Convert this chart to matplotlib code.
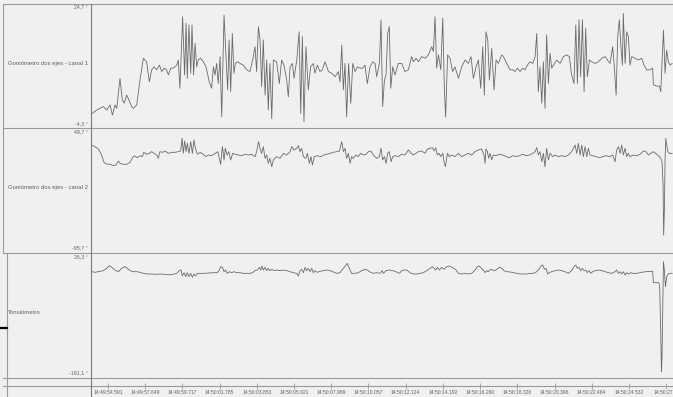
import matplotlib
matplotlib.use("Agg")
import matplotlib.pyplot as plt
from matplotlib.lines import Line2D

plt.rcParams['font.family'] = ['Liberation Sans', 'DejaVu Sans']

# time in seconds from the left edge of the record, values in degrees
t1 = [0.07, 0.31, 0.50, 0.69, 0.87, 1.06, 1.19, 1.33, 1.43, 1.61,
      1.74, 1.85, 1.98, 2.11, 2.26, 2.35, 2.54, 2.72, 2.91, 3.09,
      3.24, 3.37, 3.50, 3.65, 3.80, 3.93, 4.06, 4.20, 4.30, 4.43,
      4.57, 4.76, 4.85, 4.94, 5.09, 5.20, 5.28, 5.35, 5.44, 5.54,
      5.61, 5.70, 5.78, 5.87, 5.96, 6.09, 6.24, 6.39, 6.57, 6.70,
      6.80, 6.89, 6.98, 7.07, 7.17, 7.26, 7.39, 7.50, 7.59, 7.67,
      7.76, 7.85, 7.94, 8.02, 8.13, 8.28, 8.46, 8.65, 8.83, 8.98,
      9.11, 9.20, 9.30, 9.39, 9.48, 9.57, 9.67, 9.76, 9.85, 9.94,
      10.04, 10.13, 10.31, 10.46, 10.59, 10.72, 10.87, 10.96, 11.06, 11.19,
      11.28, 11.43, 11.56, 11.65, 11.74, 11.83, 11.94, 12.07, 12.20, 12.35,
      12.44, 12.57, 12.72, 12.85, 13.00, 13.19, 13.37, 13.56, 13.74, 13.83,
      13.93, 14.02, 14.11, 14.20, 14.31, 14.43, 14.54, 14.67, 14.80, 14.94,
      15.09, 15.22, 15.35, 15.50, 15.65, 15.78,
      15.87, 16.02, 16.11, 16.20, 16.30, 16.39, 16.48, 16.57, 16.65, 16.76,
      16.89, 17.07, 17.26, 17.44, 17.63, 17.81, 17.91, 18.06, 18.19, 18.37,
      18.56, 18.74, 18.93, 19.02, 19.11, 19.20, 19.30, 19.43, 19.54, 19.63,
      19.70, 19.81, 19.94, 20.09, 20.22, 20.41, 20.59, 20.78, 20.96, 21.11,
      21.24, 21.39, 21.52, 21.65, 21.76, 21.85, 21.94, 22.04, 22.13, 22.26,
      22.39, 22.50, 22.63, 22.81, 22.91, 23.09, 23.28, 23.43, 23.56, 23.69,
      23.83, 23.98, 24.11, 24.24, 24.39, 24.54, 24.67, 24.76, 24.85, 24.94,
      25.04, 25.13, 25.22, 25.31, 25.41, 25.50, 25.59, 25.69, 25.87, 26.06,
      26.24, 26.43, 26.57, 26.70, 26.83, 26.93, 27.02, 27.11, 27.20, 27.30,
      27.39, 27.48, 27.57, 27.69, 27.81, 28.00, 28.19, 28.37, 28.56, 28.69,
      28.83, 28.98, 29.07, 29.17, 29.26, 29.35, 29.43, 29.52, 29.57, 29.67,
      29.76, 29.85, 29.94, 30.04, 30.22, 30.41, 30.59, 30.72, 30.87, 31.06,
      31.20, 31.24, 31.43, 31.57, 31.65, 31.70, 31.80, 31.89, 31.98, 32.07,
      32.17, 32.28]
v1 = [-0.9, -0.1, 0.3, 0.7, -0.1, 1.1, -1.3, 1.1, 0.3, 7.3,
      2.2, 1.5, 3.4, 2.2, 0.7, 0.3, 1.1, 6.9, 12.0, 11.2,
      6.5, 9.3, 10.0, 9.3, 10.4, 8.9, 9.7, 9.3, 8.1, 9.7,
      9.7, 10.4, 11.6, 5.0, 21.7, 8.1, 20.2, 7.3, 19.8, 8.5,
      19.8, 8.1, 15.5, 10.0, 11.6, 12.0, 11.2, 10.0, 6.5, 5.0,
      10.0, 8.1, 10.8, 6.1, 12.4, -1.7, 22.1, 12.4, 4.6, 16.3,
      4.2, 17.8, 8.5, 10.8, 11.2, 10.8, 10.4, 9.3, 8.9, 11.6,
      14.7, 8.9, 19.4, 16.3, 5.4, 16.3, 3.4, 11.6, -0.1, 10.8,
      -2.1, 11.6, 11.2, 6.1, 11.6, 10.4, 6.9, 3.0, 10.0, 10.8,
      7.3, 11.6, 18.2, -0.9, 17.1, -2.8, 14.7, 4.6, 10.0, 10.8,
      8.5, 10.4, 8.9, 9.3, 11.2, 8.9, 8.5, 7.7, 8.9, 6.5,
      15.1, 4.6, 10.8, -1.7, 10.8, 1.5, 10.8, 8.9, 10.0, 9.7,
      9.7, 10.4, 6.1, 10.0, 11.2, 10.8,
      7.7, 10.8, 21.0, 0.7, 6.9, 8.1, 17.8, 19.4, 5.0, 10.0,
      8.1, 10.8, 10.8, 8.9, 9.3, 12.4, 11.2, 12.0, 11.2, 12.4,
      12.0, 12.8, 14.7, 13.6, 21.7, 9.7, 12.8, 9.3, 21.4, 4.6,
      -1.7, 12.8, 12.0, 8.9, 10.0, 7.3, 10.0, 11.6, 10.8, 12.4,
      7.3, 10.0, 11.6, 5.0, 14.7, 3.4, 18.2, 16.3, 6.9, 14.3,
      4.6, 11.6, 10.8, 12.8, 12.4, 10.8, 9.3, 9.3, 8.9, 9.7,
      8.9, 9.7, 9.3, 10.4, 11.2, 10.8, 12.4, 17.8, 4.2, 10.0,
      1.5, 11.2, 0.3, 17.5, 6.1, 13.2, 9.7, 10.4, 11.6, 10.8,
      12.4, 12.8, 12.4, 8.1, 6.1, 19.8, 6.1, 21.0, 7.7, 21.0,
      4.2, 19.0, 7.7, 11.6, 11.2, 10.8, 11.2, 12.0, 12.4, 11.6,
      10.8, 14.7, 10.0, 3.4, 17.1, 21.0, 15.1, 10.4, 22.5, 10.8,
      18.2, 17.1, 10.4, 12.4, 12.0, 11.6, 12.0, 10.4, 9.3, 9.3,
      9.7, 5.8, 5.5, 5.5, 4.2, 8.9, 18.6, 8.5, 13.9, 11.2,
      10.4, 10.8]

t2 = [0.07, 0.22, 0.41, 0.59, 0.72, 0.87, 1.06, 1.24, 1.39, 1.52,
      1.61, 1.80, 1.98, 2.17, 2.35, 2.44, 2.57, 2.72, 2.85, 2.94,
      3.09, 3.24, 3.37, 3.50, 3.65, 3.74, 3.83, 3.98, 4.11, 4.30,
      4.48, 4.67, 4.85, 4.98, 5.06, 5.13, 5.20, 5.28, 5.35, 5.44,
      5.54, 5.63, 5.72, 5.80, 5.91, 6.06, 6.24, 6.39, 6.52, 6.70,
      6.89, 7.04, 7.13, 7.20, 7.30, 7.39, 7.46, 7.56, 7.65, 7.76,
      7.87, 8.00, 8.19, 8.37, 8.56, 8.74, 8.93, 9.11, 9.20, 9.31,
      9.39, 9.48, 9.57, 9.67, 9.76, 9.85, 9.94, 10.04, 10.13, 10.31,
      10.50, 10.69, 10.87, 11.06, 11.15, 11.28, 11.43, 11.52, 11.61, 11.70,
      11.80, 11.93, 12.02, 12.13, 12.22, 12.30, 12.41, 12.57, 12.76, 12.94,
      13.09, 13.28, 13.46, 13.65, 13.80, 13.93, 14.02, 14.11, 14.20, 14.30,
      14.39, 14.48, 14.57, 14.72, 14.85, 14.98, 15.13, 15.28, 15.41, 15.54,
      15.69, 15.87, 16.02, 16.11, 16.20, 16.30, 16.39, 16.48, 16.57, 16.67,
      16.76, 16.89, 17.07, 17.26, 17.44, 17.63, 17.72, 17.87, 18.06, 18.19,
      18.37, 18.56, 18.69, 18.83, 18.96, 19.06, 19.15, 19.24, 19.33, 19.43,
      19.54, 19.63, 19.69, 19.80, 19.91, 20.04, 20.22, 20.41, 20.59, 20.78,
      20.96, 21.15, 21.33, 21.52, 21.70, 21.83, 21.89, 21.94, 22.02, 22.09,
      22.17, 22.26, 22.35, 22.50, 22.69, 22.87, 23.06, 23.24, 23.43, 23.61,
      23.80, 23.98, 24.17, 24.35, 24.54, 24.67, 24.76, 24.85, 24.94, 25.04,
      25.13, 25.22, 25.31, 25.41, 25.50, 25.65, 25.78, 25.96, 26.15, 26.33,
      26.52, 26.70, 26.80, 26.89, 26.98, 27.07, 27.17, 27.26, 27.35, 27.44,
      27.54, 27.63, 27.72, 27.87, 28.06, 28.24, 28.43, 28.61, 28.80, 28.98,
      29.11, 29.20, 29.30, 29.39, 29.48, 29.57, 29.67, 29.76, 29.85, 29.94,
      30.13, 30.31, 30.50, 30.69, 30.83, 30.96, 31.09, 31.24, 31.43, 31.57,
      31.65, 31.72, 31.78, 31.81, 31.85, 31.89, 31.93, 31.98, 32.04, 32.13,
      32.28]
v2 = [29.2, 28.0, 25.3, 18.3, 9.8, 7.8, 7.4, 5.9, 6.7, 11.3,
      8.6, 7.4, 7.4, 9.8, 16.4, 17.1, 15.2, 17.5, 16.4, 21.4,
      19.1, 20.2, 22.2, 20.2, 18.3, 14.4, 22.2, 21.4, 23.0, 20.2,
      21.4, 21.4, 22.2, 23.0, 37.7, 20.2, 34.6, 22.2, 31.9, 20.2,
      33.8, 20.2, 35.7, 26.1, 19.1, 21.4, 19.1, 16.4, 18.3, 17.5,
      20.2, 22.2, 14.4, 7.4, 28.0, 12.5, 26.1, 18.3, 22.2, 12.5,
      20.2, 19.1, 18.3, 17.5, 19.1, 18.3, 19.1, 16.4, 22.2, 33.8,
      26.1, 20.2, 28.0, 14.4, 18.3, 8.6, 14.4, 4.7, 12.5, 16.4,
      14.4, 20.2, 18.3, 22.2, 28.0, 24.1, 26.1, 29.2, 22.2, 26.1,
      16.4, 14.4, 20.2, 8.6, 16.4, 6.7, 16.4, 17.5, 16.4, 18.3,
      19.1, 20.2, 21.4, 22.2, 23.0, 33.8, 22.2, 26.1, 14.4, 20.2,
      8.6, 16.4, 14.4, 18.3, 16.4, 20.2, 18.3, 19.1, 22.2, 23.0,
      18.3, 14.4, 16.4, 26.1, 12.5, 16.4, 8.6, 20.2, 22.2, 10.5,
      16.4, 17.5, 16.4, 19.1, 18.3, 24.1, 22.2, 18.3, 20.2, 22.2,
      23.0, 20.2, 25.3, 26.1, 26.8, 23.0, 26.8, 18.3, 20.2, 16.4,
      20.2, 8.6, 4.7, 20.2, 16.4, 18.3, 16.4, 20.2, 16.4, 18.3,
      20.2, 18.3, 22.2, 24.1, 25.3, 18.3, 8.6, 25.3, 22.2, 14.4,
      20.2, 12.5, 18.3, 17.5, 19.1, 18.3, 16.4, 15.2, 17.5, 16.4,
      17.5, 19.1, 17.5, 18.3, 20.2, 22.2, 26.8, 18.3, 22.2, 10.5,
      20.2, 4.7, 26.1, 12.5, 20.2, 16.4, 18.3, 16.4, 17.5, 16.4,
      18.3, 22.2, 26.1, 29.9, 20.2, 31.9, 18.3, 29.9, 16.4, 28.0,
      16.4, 26.1, 18.3, 17.5, 16.4, 15.2, 16.4, 17.5, 16.4, 18.3,
      10.5, 24.1, 28.0, 20.2, 29.9, 18.3, 26.1, 16.4, 20.2, 16.4,
      18.3, 17.5, 19.1, 23.0, 22.2, 18.3, 20.2, 22.2, 19.1, 16.4,
      14.4, 10.5, -16.6, -74.8, -47.6, 14.4, 37.7, 29.9, 22.2, 20.2,
      20.2]

t3 = [0.07, 0.22, 0.41, 0.69, 0.87, 1.02, 1.15, 1.33, 1.52, 1.70,
      1.89, 2.02, 2.17, 2.35, 2.54, 2.72, 2.91, 3.09, 3.37, 3.65,
      3.93, 4.20, 4.48, 4.76, 4.91, 5.00, 5.07, 5.17, 5.26, 5.35,
      5.44, 5.54, 5.63, 5.72, 5.81, 5.91, 6.06, 6.28, 6.52, 6.80,
      7.02, 7.13, 7.20, 7.30, 7.39, 7.48, 7.57, 7.69, 7.81, 7.94,
      8.09, 8.28, 8.46, 8.65, 8.83, 8.98, 9.11, 9.24, 9.35, 9.43,
      9.50, 9.57, 9.67, 9.76, 9.85, 9.94, 10.04, 10.17, 10.31, 10.50,
      10.69, 10.87, 11.06, 11.24, 11.43, 11.52, 11.61, 11.70, 11.80, 11.89,
      11.98, 12.07, 12.17, 12.26, 12.35, 12.44, 12.57, 12.72, 12.91, 13.09,
      13.28, 13.46, 13.65, 13.83, 14.02, 14.17, 14.24, 14.35, 14.48, 14.67,
      14.85, 15.04, 15.22, 15.35, 15.50, 15.69,
      15.87, 16.06, 16.17, 16.24, 16.39, 16.57, 16.76, 16.94, 17.13, 17.26,
      17.35, 17.54, 17.72, 17.91, 18.09, 18.28, 18.46, 18.65, 18.83, 18.96,
      19.06, 19.15, 19.24, 19.35, 19.48, 19.61, 19.76, 19.91, 20.04, 20.17,
      20.28, 20.41, 20.59, 20.78, 20.96, 21.15, 21.33, 21.46, 21.57, 21.69,
      21.80, 21.89, 21.98, 22.07, 22.20, 22.31, 22.43, 22.54, 22.69, 22.83,
      22.94, 23.09, 23.28, 23.46, 23.65, 23.83, 24.02, 24.20, 24.39, 24.57,
      24.76, 24.89, 25.00, 25.09, 25.19, 25.28, 25.37, 25.46, 25.59, 25.78,
      25.96, 26.15, 26.33, 26.52, 26.70, 26.83, 26.93, 27.02, 27.11, 27.20,
      27.30, 27.39, 27.48, 27.57, 27.67, 27.76, 27.87, 28.00, 28.19, 28.37,
      28.56, 28.74, 28.93, 29.11, 29.20, 29.30, 29.39, 29.48, 29.57, 29.67,
      29.76, 29.85, 29.98, 30.13, 30.31, 30.50, 30.69, 30.87, 31.06, 31.20,
      31.24, 31.39, 31.54, 31.59, 31.65, 31.69, 31.72, 31.76, 31.80, 31.85,
      31.91, 31.98, 32.07, 32.17, 32.28]
v3 = [-6.2, -7.3, -6.2, -4.4, -0.4, 4.3, 1.4, -3.3, -6.2, -0.4,
      2.5, -0.4, -4.4, -6.2, -6.2, -7.3, -9.1, -10.2, -10.2, -10.8,
      -10.2, -11.4, -11.4, -9.1, -4.4, -3.3, -13.7, -7.9, -14.9, -7.9,
      -14.9, -9.1, -16.0, -10.2, -13.7, -9.1, -9.1, -9.1, -8.5, -7.9,
      -7.9, -3.3, 2.5, 1.4, -6.2, -3.3, -9.1, -6.2, -7.9, -6.2,
      -7.9, -7.9, -9.1, -9.1, -9.1, -7.9, -4.4, -3.3, 1.4, -3.3,
      3.7, -3.3, 1.4, -4.4, -0.4, -4.4, -2.1, -4.4, -3.3, -4.4,
      -3.3, -4.4, -6.2, -7.9, -9.1, -13.7, -4.4, -2.1, -7.9, 1.4,
      -4.4, -0.4, -6.2, -0.4, -7.9, -4.4, -7.3, -5.6, -4.4, -3.3,
      -4.4, -6.7, -9.1, -7.9, -0.4, 5.4, 8.3, -0.4, -9.1, -9.1,
      -7.9, -4.4, -2.1, -3.3, -6.7, -9.1,
      -7.9, -9.1, -4.4, -9.1, -4.4, -3.3, -4.4, -6.2, -9.1, -4.4,
      -3.3, -3.3, -7.9, -10.2, -10.2, -9.1, -7.9, -4.4, -0.4, 2.5,
      -0.4, -3.3, 1.4, -3.3, 1.4, -2.1, 2.5, 3.7, 1.4, -0.4,
      -3.3, -9.1, -10.2, -9.1, -10.2, -9.1, -3.3, 2.5, 3.7, -0.4,
      -3.3, -7.9, -4.4, -6.2, -2.1, -3.3, -4.4, -2.1, 1.4, -0.4,
      -4.4, -6.2, -6.7, -7.9, -9.1, -10.2, -10.2, -10.2, -9.1, -9.1,
      -6.2, -2.1, 3.7, 5.4, -2.1, -0.4, -10.2, -7.9, -6.2, -4.4,
      -3.3, -4.4, -6.2, -9.1, -4.4, 2.5, 5.4, -0.4, 1.4, -4.4,
      -0.4, -4.4, -3.3, -7.9, -4.4, -9.1, -6.2, -4.4, -3.3, -4.4,
      -6.2, -7.9, -9.1, -6.2, -3.3, -9.1, -6.2, -10.2, -6.2, -12.0,
      -7.9, -10.2, -7.9, -9.1, -9.1, -7.9, -6.7, -6.2, -5.6, -5.6,
      -25.3, -25.3, -25.3, -32.3, -113.4, -180.1, -154.0, -67.0, 11.2, -3.3,
      -32.3, -14.9, -10.2, -9.1, -9.1]

channels = ["Goniómetro dos ejes - canal 1", "Goniómetro dos ejes - canal 2", "Tonsiómetro"]
y_limits = [(-4.3, 24.7), (-95.7, 49.7), (-191.1, 26.3)]
y_texts = [("24,7 °", "-4,3 °"), ("49,7 °", "-95,7 °"), ("26,3 °", "-191,1 °")]
time_labels = ["14:49:54.591", "14:49:57.649", "14:49:59.717", "14:50:01.785",
               "14:50:03.853", "14:50:05.921", "14:50:07.989", "14:50:10.057",
               "14:50:12.124", "14:50:14.192", "14:50:16.260", "14:50:18.328",
               "14:50:20.396", "14:50:22.464", "14:50:24.532", "14:50:27"]
tick_times = [0.944 + 2.067 * k for k in range(len(time_labels))]
t_span = (0.0, 32.33)

W, H = 673, 397
bg = '#f0f0f0'
grid_col = '#9a9a9a'
trace_col = '#6a6a6a'
text_col = '#606060'


def fx(px):
    return px / W


def fy(py):
    return 1 - py / H


def hline(y, x0=3, x1=W, color=grid_col, lw=0.8):
    fig.add_artist(Line2D([fx(x0), fx(x1)], [fy(y), fy(y)], transform=fig.transFigure,
                          color=color, lw=lw))


def vline(x, y0, y1, color=grid_col, lw=0.8):
    fig.add_artist(Line2D([fx(x), fx(x)], [fy(y0), fy(y1)], transform=fig.transFigure,
                          color=color, lw=lw))


fig = plt.figure(figsize=(W / 100, H / 100), dpi=100, facecolor=bg)

series = [(t1, v1), (t2, v2), (t3, v3)]
panel_edges = [(4, 128), (128, 253), (253, 378)]
tick_y = [(7, 124), (132, 248), (257, 373)]
name_y = [63, 187, 312]

for i, (tt, vv) in enumerate(series):
    top, bot = panel_edges[i]
    ax = fig.add_axes([fx(91), fy(bot), fx(W) - fx(91), (bot - top) / H])
    ax.set_axis_off()
    ax.plot(tt, vv, color=trace_col, lw=0.6)
    ax.set_xlim(*t_span)
    ax.set_ylim(*y_limits[i])

    fig.text(fx(88), fy(tick_y[i][0]), y_texts[i][0], ha='right', va='center',
             fontsize=3.8, color=text_col)
    fig.text(fx(88), fy(tick_y[i][1]), y_texts[i][1], ha='right', va='center',
             fontsize=3.8, color=text_col)
    fig.text(fx(8), fy(name_y[i]), channels[i], ha='left', va='center',
             fontsize=4.3, color=text_col)

# time strip
ax_t = fig.add_axes([fx(91), fy(397), fx(W) - fx(91), 11 / H])
ax_t.set_facecolor(bg)
for s in ax_t.spines.values():
    s.set_visible(False)
ax_t.set_xlim(*t_span)
ax_t.set_ylim(0, 1)
ax_t.set_yticks([])
ax_t.set_xticks(tick_times)
ax_t.tick_params(axis='x', top=True, bottom=False, labeltop=False, labelbottom=False,
                 direction='inout', length=4, width=0.5, color='#8a8a8a')
last = len(time_labels) - 1
for k, (tk, lab) in enumerate(zip(tick_times, time_labels)):
    if k == last:
        # the last label is pushed against the right edge
        ax_t.text(t_span[1], 0.45, lab, ha='right', va='center', fontsize=3.6,
                  color=text_col)
    else:
        ax_t.text(tk, 0.45, lab, ha='center', va='center', fontsize=3.6,
                  color=text_col, clip_on=False)

# frame and separators
hline(4)
hline(128)
hline(253)
hline(378)
hline(386)
vline(3, 4, 253)
vline(7, 253, 397)
vline(91, 4, 397, color='#7a7a7a')
hline(328, 0, 7, color='black', lw=1.6)

fig.savefig('out.png', dpi=100, facecolor=bg)
